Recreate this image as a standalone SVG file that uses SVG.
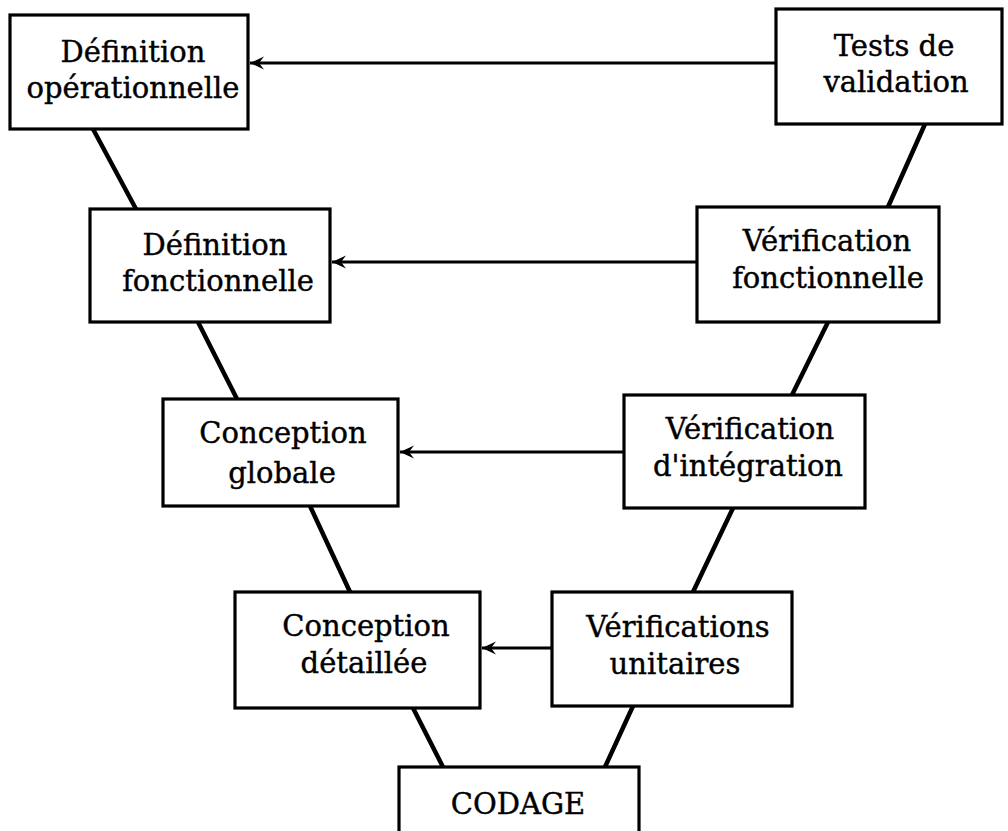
<svg xmlns="http://www.w3.org/2000/svg" width="1008" height="831" viewBox="0 0 1008 831">
<style>
.box{fill:#fff;stroke:#000;stroke-width:3.2}
.t{font-family:"DejaVu Serif","Liberation Serif",serif;font-size:29px;fill:#000;stroke:#000;stroke-width:0.4;text-anchor:middle}
.link{stroke:#000;stroke-width:4.5;fill:none;stroke-linecap:round}
.arr{stroke:#000;stroke-width:3;fill:none}
</style>
<defs>
<marker id="ah" markerWidth="16" markerHeight="14" refX="15" refY="7" orient="auto" markerUnits="userSpaceOnUse">
<path d="M15,7 L1,0.5 L6,7 L1,13.5 Z" fill="#000"/>
</marker>
</defs>
<rect width="1008" height="831" fill="#fff"/>
<g id="connectors">
<line class="link" x1="93" y1="129" x2="136" y2="209"/>
<line class="link" x1="198" y1="322" x2="237" y2="399"/>
<line class="link" x1="310" y1="506" x2="350" y2="592"/>
<line class="link" x1="413" y1="708" x2="443" y2="767"/>
<line class="link" x1="925" y1="124" x2="888" y2="207"/>
<line class="link" x1="828" y1="322" x2="792" y2="395"/>
<line class="link" x1="733" y1="508" x2="693" y2="592"/>
<line class="link" x1="633" y1="706" x2="605" y2="767"/>
<line class="arr" x1="776" y1="63" x2="250" y2="63" marker-end="url(#ah)"/>
<line class="arr" x1="697" y1="262" x2="332" y2="262" marker-end="url(#ah)"/>
<line class="arr" x1="624" y1="452" x2="400" y2="452" marker-end="url(#ah)"/>
<line class="arr" x1="552" y1="648" x2="482" y2="648" marker-end="url(#ah)"/>
</g>
<g id="def-op"><rect class="box" x="10" y="15" width="238" height="114"/><text class="t" x="133" y="62">Définition</text><text class="t" x="133" y="98">opérationnelle</text></g>
<g id="tests-val"><rect class="box" x="776" y="9" width="226" height="115"/><text class="t" x="894" y="56">Tests de</text><text class="t" x="896" y="92">validation</text></g>
<g id="def-fonc"><rect class="box" x="90" y="209" width="240" height="113"/><text class="t" x="215" y="255">Définition</text><text class="t" x="218" y="291">fonctionnelle</text></g>
<g id="verif-fonc"><rect class="box" x="697" y="207" width="242" height="115"/><text class="t" x="827" y="251">Vérification</text><text class="t" x="828" y="288">fonctionnelle</text></g>
<g id="conc-glob"><rect class="box" x="163" y="399" width="235" height="107"/><text class="t" x="283" y="443">Conception</text><text class="t" x="282" y="483">globale</text></g>
<g id="verif-int"><rect class="box" x="624" y="395" width="241" height="113"/><text class="t" x="750" y="439">Vérification</text><text class="t" x="748" y="476">d'intégration</text></g>
<g id="conc-det"><rect class="box" x="235" y="592" width="245" height="116"/><text class="t" x="366" y="636">Conception</text><text class="t" x="364" y="673">détaillée</text></g>
<g id="verif-unit"><rect class="box" x="552" y="592" width="240" height="114"/><text class="t" x="678" y="637">Vérifications</text><text class="t" x="675" y="674">unitaires</text></g>
<g id="codage"><rect class="box" x="399" y="767" width="240" height="70"/><text class="t" x="518" y="814">CODAGE</text></g>
</svg>
